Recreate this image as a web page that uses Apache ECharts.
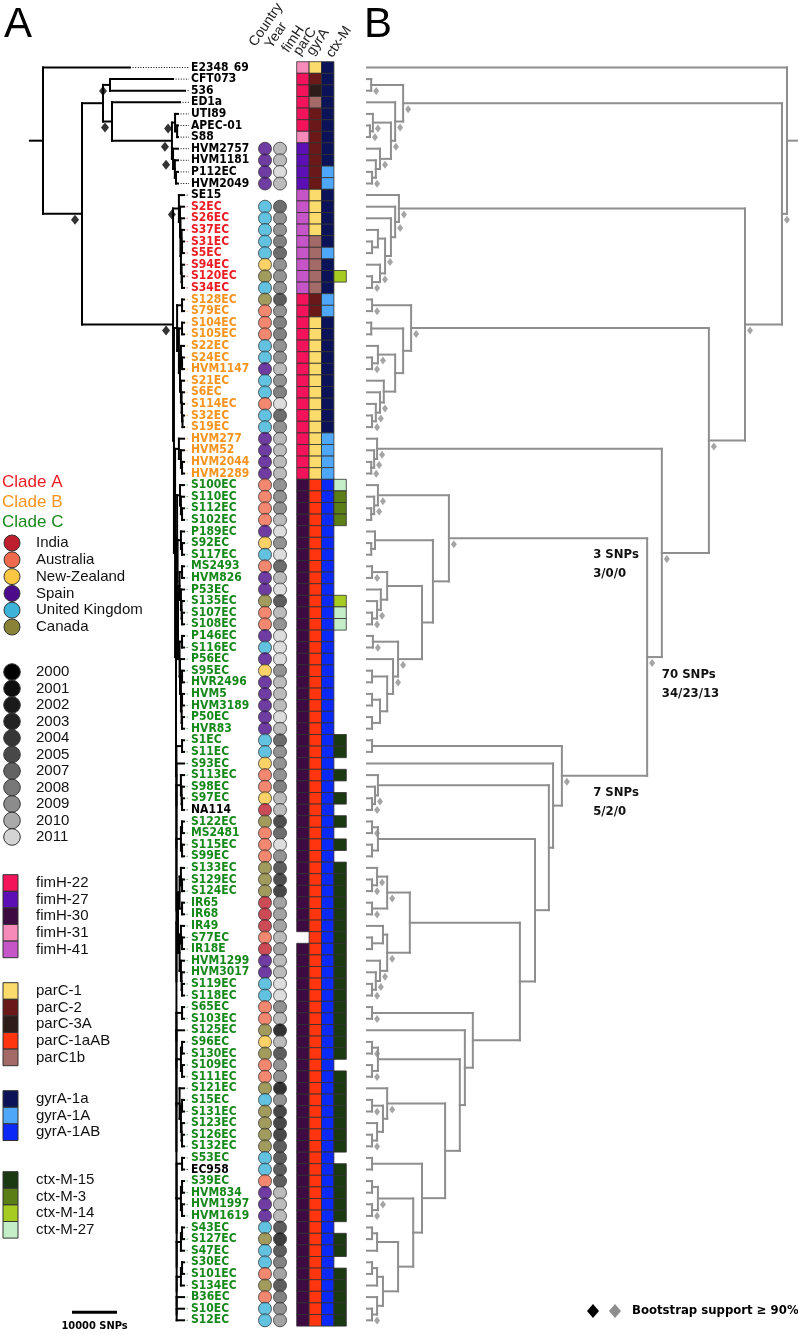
<!DOCTYPE html>
<html><head><meta charset="utf-8">
<script src="https://cdn.jsdelivr.net/npm/echarts@6.0.0/dist/echarts.min.js"></script>
<style>html,body{margin:0;padding:0;background:#fff;}#chart{width:798px;height:1334px;}</style>
</head><body><div id="chart"></div>
<script>
// ---------------- DATA ----------------
const taxa = ['E2348_69','CFT073','536','ED1a','UTI89','APEC-01','S88','HVM2757','HVM1181','P112EC','HVM2049','SE15',
'S2EC','S26EC','S37EC','S31EC','S5EC','S94EC','S120EC','S34EC',
'S128EC','S79EC','S104EC','S105EC','S22EC','S24EC','HVM1147','S21EC','S6EC','S114EC','S32EC','S19EC','HVM277','HVM52','HVM2044','HVM2289',
'S100EC','S110EC','S112EC','S102EC','P189EC','S92EC','S117EC','MS2493','HVM826','P53EC','S135EC','S107EC','S108EC','P146EC','S116EC','P56EC','S95EC','HVR2496','HVM5','HVM3189','P50EC','HVR83',
'S1EC','S11EC','S93EC','S113EC','S98EC','S97EC','NA114','S122EC','MS2481','S115EC',
'S99EC','S133EC','S129EC','S124EC','IR65','IR68','IR49','S77EC','IR18E','HVM1299',
'HVM3017','S119EC','S118EC','S65EC','S103EC','S125EC','S96EC','S130EC','S109EC','S111EC',
'S121EC','S15EC','S131EC','S123EC','S126EC','S132EC','S53EC','EC958','S39EC','HVM834',
'HVM1997','HVM1619','S43EC','S127EC','S47EC','S30EC','S101EC','S134EC','B36EC','S10EC',
'S12EC'];

const referenceStrains = ['E2348_69','CFT073','536','ED1a','UTI89','APEC-01','S88','HVM2757','HVM1181','P112EC','HVM2049','SE15','NA114','EC958'];
const cladeA = ['S2EC','S26EC','S37EC','S31EC','S5EC','S94EC','S120EC','S34EC'];
const cladeB = ['S128EC','S79EC','S104EC','S105EC','S22EC','S24EC','HVM1147','S21EC','S6EC','S114EC','S32EC','S19EC','HVM277','HVM52','HVM2044','HVM2289'];

const country = ['','','','','','','','ES','ES','ES','ES','',
'UK','UK','UK','UK','UK','NZ','CA','UK',
'CA','AU','AU','AU','UK','UK','ES','UK','UK','AU','UK','UK','ES','ES','ES','ES',
'AU','AU','AU','AU','ES','NZ','UK','AU','ES','ES','CA','AU','AU','ES','UK','ES','NZ','ES','ES','ES','ES','ES',
'UK','UK','NZ','AU','AU','NZ','IN','CA','AU','AU',
'AU','CA','CA','CA','IN','IN','IN','AU','IN','ES',
'ES','UK','UK','AU','AU','CA','NZ','CA','AU','AU',
'CA','UK','CA','CA','CA','CA','UK','UK','AU','ES',
'ES','ES','UK','CA','UK','UK','AU','CA','AU','UK',
'UK'];

const year = [null,null,null,null,null,null,null,2010,2010,2011,2010,null,
2005,2008,2008,2007,2005,2008,2008,2008,
2004,2008,2007,2007,2008,2008,2010,2008,2007,2011,2005,2008,2010,2010,2010,2010,
2008,2008,2008,2010,2011,2008,2011,2005,2010,2011,2004,2010,2008,2011,2011,2011,2008,2010,2010,2010,2011,2010,
2005,2008,2008,2008,2007,2010,2010,2003,2005,2011,
2008,2004,2003,2002,2009,2009,2009,2010,2009,2010,
2010,2011,2011,2008,2010,2000,2010,2004,2008,2008,
2000,2008,2002,2002,2002,2004,2004,2004,2004,2010,
2010,2010,2004,2001,2004,2007,2009,2004,2007,2008,
2009];

const fimH = ('31 22 22 22 22 22 31 27 27 27 27 41 ' +
'41 41 41 41 41 41 41 41 ' +
'22 22 22 22 22 22 22 22 22 22 22 22 22 22 22 22 ' +
'30 30 30 30 30 30 30 30 30 30 30 30 30 30 30 30 30 30 30 30 30 30 ' +
'30 30 30 30 30 30 30 30 30 30 30 30 30 30 30 30 30 - 30 30 ' +
'30 30 30 30 30 30 30 30 30 30 30 30 30 30 30 30 30 30 30 30 ' +
'30 30 30 30 30 30 30 30 30 30 30').split(' ');

const parC = ('1 2 3A 1b 2 2 2 2 2 2 2 1 ' +
'1 1 1 1b 1b 1b 1b 1b ' +
'2 2 1 1 1 1 1 1 1 1 1 1 1 1 1 1 ' +
'1aAB 1aAB 1aAB 1aAB 1aAB 1aAB 1aAB 1aAB 1aAB 1aAB 1aAB 1aAB 1aAB 1aAB 1aAB 1aAB 1aAB 1aAB 1aAB 1aAB 1aAB 1aAB ' +
'1aAB 1aAB 1aAB 1aAB 1aAB 1aAB 1aAB 1aAB 1aAB 1aAB 1aAB 1aAB 1aAB 1aAB 1aAB 1aAB 1aAB 1aAB 1aAB 1aAB ' +
'1aAB 1aAB 1aAB 1aAB 1aAB 1aAB 1aAB 1aAB 1aAB 1aAB 1aAB 1aAB 1aAB 1aAB 1aAB 1aAB 1aAB 1aAB 1aAB 1aAB ' +
'1aAB 1aAB 1aAB 1aAB 1aAB 1aAB 1aAB 1aAB 1aAB 1aAB 1aAB').split(' ');

const gyrA = ('1a 1a 1a 1a 1a 1a 1a 1a 1a 1A 1A 1a ' +
'1a 1a 1a 1a 1A 1a 1a 1a ' +
'1A 1A 1a 1a 1a 1a 1a 1a 1a 1a 1a 1a 1A 1A 1A 1A ' +
'1AB 1AB 1AB 1AB 1AB 1AB 1AB 1AB 1AB 1AB 1AB 1AB 1AB 1AB 1AB 1AB 1AB 1AB 1AB 1AB 1AB 1AB ' +
'1AB 1AB 1AB 1AB 1AB 1AB 1AB 1AB 1AB 1AB 1AB 1AB 1AB 1AB 1AB 1AB 1AB 1AB 1AB 1AB ' +
'1AB 1AB 1AB 1AB 1AB 1AB 1AB 1AB 1AB 1AB 1AB 1AB 1AB 1AB 1AB 1AB 1AB 1AB 1AB 1AB ' +
'1AB 1AB 1AB 1AB 1AB 1AB 1AB 1AB 1AB 1AB 1AB').split(' ');

const ctxM = ('- - - - - - - - - - - - ' +
'- - - - - - 14 - ' +
'- - - - - - - - - - - - - - - - ' +
'27 3 3 3 - - - - - - 14 27 27 - - - - - - - - - ' +
'15 15 - 15 - 15 - 15 - 15 ' +
'- 15 15 15 15 15 15 15 15 15 ' +
'15 15 15 15 15 15 15 15 - 15 ' +
'15 15 15 15 15 15 - 15 15 15 ' +
'15 15 - 15 15 - 15 15 15 15 ' +
'15').split(' ');

const columnHeaders = ['Country','Year','fimH','parC','gyrA','ctx-M'];

// Tree topology (rows = taxon index+1). Node value "a~b": a = distance from root in tree A (SNPs), b = node height in tree B.
// '#' = bootstrap >= 90% in tree A, '*' = bootstrap >= 90% in tree B
const nOUT = "((2:28889,3:31556):14889~1.0*#,(4:30444,((5:30000,(6:30000,7:30000):29800~0.7*):29350~1.4*#,(8:30000,(9:30000,(10:30000,11:30000):29550~1.2*):29300~2.1):28900~3.1*#):28650~5.7*#):15333~6.7*#):13333~8.6*";
const nSTA = "(12,(13,(14,((15,(16,17):30900~1.2):30800~2.6,(18,(19,20):30900~1.2*):30800~3.1*):30650~4.3*):30550~5.7):30450~6.7*):30200~7.6*#";
const nCladeB = "((21,22):30900~1.2*,((23,24):30900~1.0,((25,(26,27):30900~1.2*):30650~2.6*,(28,(29,(30,(31,32):31000~1.2*):30900~2.1*):30800~3.1*):30650~4.0):30450~6.7):30200~8.6):29800~10.5*";
const n377 = "(33,(34,(35,36):30900~1.0*):30650~1.7*):30200~2.4*";
const g37 = "(37,(38,(39,40):30900~1.0):30650~1.7*):30450~2.6*";
const g41 = "(41,(42,43):30900~1.0):30650~1.9";
const n387 = "((44,45):30900~1.2*,(46,(47,(48,49):30900~1.2*):30800~2.4*):30650~3.3):30350~4.8";
const n398 = "((50,51):30900~1.4*,(52,((53,54):30900~1.2,((55,56):30900~1.2,(57,58):30900~1.2):30800~3.1):30650~4.8):30450~6.2*):30350~7.4*";
const n449 = "(" + g37 + ",(" + g41 + ",(" + n387 + "," + n398 + "):30000~13.1):29900~15.7)n449:29800~19.5*";
const n410 = "(((70,(71,72):30900~1.2*):30650~2.4*,(73,74):30900~1.2*):30350~4.8*,((75,(76,77):30900~1.2):30650~3.8,(78,(79,(80,81):30900~1.2*):30800~2.1*):30650~3.1*):30350~4.8*):30000~10.2";
const g104 = "(((104,105):30900~1.2,106):30650~2.4,(107,(108,109):29700~1.2*):29700~2.4):29700~3.8";
const n398c = "(((101,102):30900~1.2,103):30650~2.4," + g104 + "):29700~7.4";
const n413 = "(((97,98):30900~1.2,(99,100):30900~1.2*):30650~2.6*," + n398c + "):29700~11";
const n422c = "((95,96):30900~1.2," + n413 + "):29700~13.1";
const n387c = "(89,((90,91):30900~1.2*,(92,(93,94):30900~1.2*):30800~2.4):30650~3.8):30350~4.8*";
const n460 = "(((85,86):30900~1.2*,(87,88):30900~1.2*):30650~2.6,(" + n387c + "," + n422c + "):29650~18.6):29650~22.1";
const n473 = "((82,83):30900~1.2*,(84," + n460 + "):29650~23.3):29650~25.2";
const n535 = "(((66,67):30900~1.2*,(68,69):30900~1.2):30650~2.6,(" + n410 + "," + n473 + "):29650~36.4):29650~40";
const n562 = "((59,60):30900~1.2,(61,((62,(63,(64,65):30900~1.2*):30800~1.9*):30650~2.6," + n535 + "):29650~43.3):29650~44.3)n562:29650~46.4*";
const n647 = "(" + n449 + "," + n562 + ")n647:29550~66.7*";
const n709 = "(" + nCladeB + ",(" + n377 + "," + n647 + "):29350~70.2*):29100~81.4*";
const n745 = "(" + nSTA + "," + n709 + "):28900~90*#";
const treeNewick = "(1:19333,(" + nOUT + "," + n745 + "):8667~98.8*#):0~100";

const tipDefaultA = 31350;      // SNPs from root for ST131 tips in tree A
const leaderEndA = 32450;       // dotted leaders end (SNPs axis)
const rootStubA = -2900;
const rootStubB = 102.7;

const branchNotes = [
  {node:'n449', lines:['3 SNPs','3/0/0'], dx:-54, dy:16},
  {node:'n647', lines:['70 SNPs','34/23/13'], dx:0, dy:18},
  {node:'n562', lines:['7 SNPs','5/2/0'], dx:-54, dy:17}
];
const scaleBar = {start:6450, snps:10000, row:108.3, label:'10000 SNPs'};

// Legends
const countryCodes = ['IN','AU','NZ','ES','UK','CA'];
const countryNames = ['India','Australia','New-Zealand','Spain','United Kingdom','Canada'];
const countryColors = ['#BE1E2D','#EF6A4C','#F9C741','#4B0B8A','#3DB3D9','#8A8236'];
const yearList = [2000,2001,2002,2003,2004,2005,2007,2008,2009,2010,2011];
const yearColors = ['#000000','#0e0e0e','#1a1a1a','#232323','#363636','#484848','#636363','#787878','#8c8c8c','#aaaaaa','#d4d4d4'];
const fimHList = ['22','27','30','31','41'];
const fimHColors = ['#F2135A','#5C0FB5','#3E0A42','#F68BBA','#C655C8'];
const parCList = ['1','2','3A','1aAB','1b'];
const parCNames = ['parC-1','parC-2','parC-3A','parC-1aAB','parC1b'];
const parCColors = ['#FCDB6D','#6B1818','#2E1C18','#FF3510','#A46A68'];
const gyrAList = ['1a','1A','1AB'];
const gyrAColors = ['#0B1258','#4FA7F9','#0A28F6'];
const ctxList = ['15','3','14','27'];
const ctxColors = ['#1B3A12','#5C7E17','#A7CC21','#C3EEC8'];
const cladeNames = ['Clade A','Clade B','Clade C'];
const cladeColors = ['#EC1C24','#F7941E','#17891C'];
const refColor = '#000000';

// ---------------- TREE PARSING / LAYOUT ----------------
function parseTree(str){
  str = str.replace(/\s+/g,'');
  let i = 0;
  function node(){
    const n = {};
    if (str[i] === '('){
      i++; n.c = [node()];
      while (str[i] === ','){ i++; n.c.push(node()); }
      i++;
      n.c.forEach(ch => ch.parent = n);
    }
    let name = '';
    while (i < str.length && /[A-Za-z0-9_]/.test(str[i])) name += str[i++];
    if (!n.c) n.tip = +name; else if (name) n.name = name;
    if (str[i] === ':'){
      i++; let v = '';
      while (i < str.length && /[0-9.\-~]/.test(str[i])) v += str[i++];
      const p = v.split('~');
      if (p[0] !== '') n.a = +p[0];
      if (p.length > 1) n.b = +p[1];
    }
    while (str[i] === '*' || str[i] === '#'){ if (str[i] === '*') n.bsB = true; else n.bsA = true; i++; }
    if (!n.c){ if (n.a === undefined) n.a = tipDefaultA; n.b = 0; }
    return n;
  }
  return node();
}
const tree = parseTree(treeNewick);
(function layout(n){ if (!n.c){ n.y = n.tip; return; } n.c.forEach(layout); n.y = (n.c[0].y + n.c[n.c.length-1].y)/2; })(tree);

function collect(n, key, segs, bs, bsKey){
  const x = n[key];
  if (n.c){
    segs.push([x, n.c[0].y, x, n.c[n.c.length-1].y]);
    n.c.forEach(ch => { segs.push([x, ch.y, ch[key], ch.y]); collect(ch, key, segs, bs, bsKey); });
  }
  if (n[bsKey]) bs.push([x, n.y]);
}
const segA = [[rootStubA, tree.y, tree.a, tree.y]], bsA = [];
collect(tree, 'a', segA, bsA, 'bsA');
const segB = [[tree.b, tree.y, rootStubB, tree.y]], bsB = [];
collect(tree, 'b', segB, bsB, 'bsB');

const tips = [];
(function walk(n){ if (!n.c) tips.push(n); else n.c.forEach(walk); })(tree);

function labelColor(name){
  if (referenceStrains.includes(name)) return refColor;
  if (cladeA.includes(name)) return cladeColors[0];
  if (cladeB.includes(name)) return cladeColors[1];
  return cladeColors[2];
}
const leaders = tips.map(t => [t.a, t.y, leaderEndA, t.y, t.tip]);

const named = {};
(function walk(n){ if (n.name) named[n.name] = n; if (n.c) n.c.forEach(walk); })(tree);
const noteData = branchNotes.map(o => [named[o.node].parent.b, named[o.node].y]);

// ---------------- CELLS / CIRCLES ----------------
const rows = taxa.map((t,i) => i+1);
const countryData = [], yearData = [];
rows.forEach((r,i) => {
  if (country[i]) countryData.push({value:['Country', r], itemStyle:{color: countryColors[countryCodes.indexOf(country[i])]}});
  if (year[i]) yearData.push({value:['Year', r], itemStyle:{color: yearColors[yearList.indexOf(year[i])]}});
});
const cells = [];
rows.forEach((r,i) => {
  if (fimH[i] !== '-') cells.push({col:0, row:r, color: fimHColors[fimHList.indexOf(fimH[i])]});
  if (parC[i] !== '-') cells.push({col:1, row:r, color: parCColors[parCList.indexOf(parC[i])]});
  if (gyrA[i] !== '-') cells.push({col:2, row:r, color: gyrAColors[gyrAList.indexOf(gyrA[i])]});
  if (ctxM[i] !== '-') cells.push({col:3, row:r, color: ctxColors[ctxList.indexOf(ctxM[i])]});
});

// ---------------- CHART ----------------
const TOP = 61.7, H = 1264.4;
const condensed = "'DejaVu Sans Condensed','DejaVu Sans',sans-serif";
const sans = "'Liberation Sans',Arial,sans-serif";
const yVal = i => ({gridIndex:i, type:'value', min:0.5, max:109.5, inverse:true, show:false});

const chart = echarts.init(document.getElementById('chart'), null, {renderer:'canvas'});

function lineSeries(id, xi, data, stroke, width, dash, colorFn){
  return {
    type:'custom', id, xAxisIndex:xi, yAxisIndex:xi, silent:true, clip:false,
    data, encode:{x:[0,2], y:[1,3]},
    renderItem(params, api){
      const p1 = api.coord([api.value(0), api.value(1)]);
      const p2 = api.coord([api.value(2), api.value(3)]);
      return {type:'line', shape:{x1:p1[0], y1:p1[1], x2:p2[0], y2:p2[1]},
        style:{stroke: colorFn ? colorFn(params.dataIndex) : stroke, lineWidth:width, lineCap: dash ? 'butt' : 'square', lineDash: dash || null}};
    }
  };
}

// legend graphics
const G = [];
G.push({type:'text', x:4, y:4, style:{text:'A', font:'42px '+sans, fill:'#000', verticalAlign:'top'}});
G.push({type:'text', x:364, y:4, style:{text:'B', font:'42px '+sans, fill:'#000', verticalAlign:'top'}});
cladeNames.forEach((n,k) => G.push({type:'text', x:2, y:482 + k*20, style:{text:n, font:'17px '+sans, fill:cladeColors[k], verticalAlign:'middle'}}));
countryNames.forEach((n,k) => {
  const cy = 543 + k*16.8;
  G.push({type:'circle', shape:{cx:12, cy, r:8}, style:{fill:countryColors[k], stroke:'#333', lineWidth:1}});
  G.push({type:'text', x:36, y:cy, style:{text:n, font:'15px '+sans, fill:'#111', verticalAlign:'middle'}});
});
yearList.forEach((n,k) => {
  const cy = 672 + k*16.5;
  G.push({type:'circle', shape:{cx:12, cy, r:8.3}, style:{fill:yearColors[k], stroke:'#333', lineWidth:1}});
  G.push({type:'text', x:36, y:cy, style:{text:String(n), font:'15px '+sans, fill:'#111', verticalAlign:'middle'}});
});
function squares(names, colors, y0){
  names.forEach((n,k) => {
    const cy = y0 + k*16.6;
    G.push({type:'rect', shape:{x:3, y:cy-8.3, width:15, height:16.6}, style:{fill:colors[k], stroke:'#333', lineWidth:1}});
    G.push({type:'text', x:36, y:cy, style:{text:n, font:'15px '+sans, fill:'#111', verticalAlign:'middle'}});
  });
}
squares(fimHList.map(f => 'fimH-'+f), fimHColors, 883);
squares(parCNames, parCColors, 991);
squares(gyrAList.map(g => 'gyrA-'+g), gyrAColors, 1099);
squares(ctxList.map(c => 'ctx-M-'+c), ctxColors, 1180);
// bootstrap legend
G.push({type:'polygon', shape:{points:[[593,1304],[599,1311],[593,1318],[587,1311]]}, style:{fill:'#000'}});
G.push({type:'polygon', shape:{points:[[615,1304],[621,1311],[615,1318],[609,1311]]}, style:{fill:'#8e8e8e'}});
G.push({type:'text', x:632, y:1311, style:{text:'Bootstrap support \u2265 90%', font:'bold 13px '+condensed, fill:'#000', verticalAlign:'middle'}});

const option = {
  animation:false,
  backgroundColor:'#fff',
  grid:[
    {left:29.5, width:166.5, top:TOP, height:H},
    {left:190, width:62, top:TOP, height:H},
    {left:257.5, width:30, top:TOP, height:H},
    {left:296.7, width:49.6, top:TOP, height:H},
    {left:367, width:420, top:TOP, height:H}
  ],
  xAxis:[
    {gridIndex:0, type:'value', min:-3000, max:34000, show:false},
    {gridIndex:1, type:'value', min:0, max:1, show:false},
    {gridIndex:2, type:'category', data:columnHeaders.slice(0,2), show:false},
    {gridIndex:3, type:'category', data:columnHeaders.slice(2), show:false},
    {gridIndex:4, type:'value', min:0, max:100, show:false}
  ],
  yAxis:[
    yVal(0),
    {gridIndex:1, type:'category', data:taxa, inverse:true,
      axisLine:{show:false}, axisTick:{show:false}, splitLine:{show:false},
      axisLabel:{inside:true, margin:1, interval:0, fontSize:12, fontWeight:'bold', fontFamily:condensed,
        color:(v) => labelColor(v)}},
    yVal(2), yVal(3), yVal(4)
  ],
  graphic:G,
  series:[
    lineSeries('leadersA', 0, leaders, null, 1, [1,1.6], i => labelColor(taxa[leaders[i][4]-1])),
    lineSeries('treeA', 0, segA, '#000', 2),
    {type:'scatter', xAxisIndex:0, yAxisIndex:0, data:bsA, symbol:'diamond', symbolSize:[8,10], symbolOffset:[-7,6],
      itemStyle:{color:'#000'}, silent:true},
    lineSeries('treeB', 4, segB, '#8e8e8e', 2),
    {type:'scatter', xAxisIndex:4, yAxisIndex:4, data:bsB, symbol:'diamond', symbolSize:[6,8], symbolOffset:[5,6],
      itemStyle:{color:'#8e8e8e'}, silent:true},
    {type:'scatter', xAxisIndex:2, yAxisIndex:2, data:countryData, symbol:'circle', symbolSize:13,
      itemStyle:{borderColor:'#3a3a3a', borderWidth:1}, silent:true},
    {type:'scatter', xAxisIndex:2, yAxisIndex:2, data:yearData, symbol:'circle', symbolSize:13,
      itemStyle:{borderColor:'#3a3a3a', borderWidth:1}, silent:true},
    {type:'custom', xAxisIndex:3, yAxisIndex:3, silent:true, data:cells.map(c => [c.col, c.row]),
      renderItem(params, api){
        const p = api.coord([api.value(0), api.value(1)]);
        const s = api.size([1,1]);
        return {type:'rect', shape:{x:p[0]-s[0]/2, y:p[1]-s[1]/2, width:s[0], height:s[1]},
          style:{fill:cells[params.dataIndex].color, stroke:'#2e2e2e', lineWidth:0.8}};
      }},
    {type:'custom', xAxisIndex:4, yAxisIndex:4, silent:true, clip:false, data:noteData,
      renderItem(params, api){
        const p = api.coord([api.value(0), api.value(1)]);
        const o = branchNotes[params.dataIndex];
        return {type:'group', children:o.lines.map((t,k) => ({type:'text', x:p[0]+o.dx, y:p[1]+o.dy+k*19,
          style:{text:t, font:'bold 13px '+condensed, fill:'#111', verticalAlign:'middle', align:'left'}}))};
      }},
    {type:'custom', xAxisIndex:0, yAxisIndex:0, silent:true, clip:false, data:[[scaleBar.start, scaleBar.row]],
      renderItem(params, api){
        const p1 = api.coord([api.value(0), api.value(1)]);
        const p2 = api.coord([api.value(0) + scaleBar.snps, api.value(1)]);
        return {type:'group', children:[
          {type:'line', shape:{x1:p1[0], y1:p1[1], x2:p2[0], y2:p2[1]}, style:{stroke:'#000', lineWidth:3}},
          {type:'text', x:(p1[0]+p2[0])/2, y:p1[1]+14, style:{text:scaleBar.label, font:'bold 11px '+condensed, fill:'#000', align:'center', verticalAlign:'middle'}}
        ]};
      }}
  ]
};
chart.setOption(option);

// rotated column headers, anchored on the column centres from the category axes
const headerShift = [[-7,49],[-6,51],[-12,55],[-13,58],[-12,58],[-5,60]];
const headerGraphics = columnHeaders.map((h,k) => {
  const px = k < 2 ? chart.convertToPixel({xAxisIndex:2}, h) : chart.convertToPixel({xAxisIndex:3}, h);
  return {type:'text', x:px + headerShift[k][0], y:headerShift[k][1], rotation:56*Math.PI/180,
    style:{text:h, font:'14px '+sans, fill:'#222', align:'left', verticalAlign:'bottom'}};
});
chart.setOption({graphic: G.concat(headerGraphics)});
</script></body></html>
